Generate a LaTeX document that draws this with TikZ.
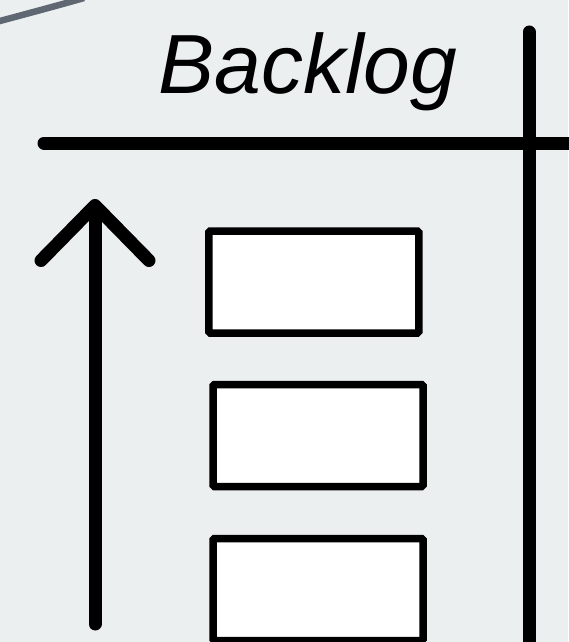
\documentclass[tikz,border=0pt]{standalone}
\usepackage{fontspec}
\setmainfont{Liberation Sans}
\usetikzlibrary{arrows.meta}
\definecolor{boardbg}{RGB}{235,239,240}
\definecolor{rimgray}{RGB}{95,103,115}

\begin{document}
\begin{tikzpicture}[
  x=1pt, y=-1pt,
  >={Straight Barb[length=55pt,width=108pt,round]},
  card/.style={
    draw,
    fill=white,
    line width=7.5pt,
    rounded corners=1.5pt,
    minimum width=210pt,
    minimum height=102pt,
    inner sep=0pt
  },
  heading/.style={font=\fontsize{84}{90}\selectfont\itshape, inner sep=0pt, anchor=base},
  every edge/.style={
    draw,
    line width=13pt,
    line cap=round,
    black
  }
]

  % Board background and rim
  \useasboundingbox[fill=boardbg] (0,0) rectangle (568,642);
  \draw[rimgray, line width=6.5pt] (-2,21.5) .. controls (26,14) and (56,6) .. (84,-2);

  % Column heading
  \node[heading] (head) at (308,93) {Backlog};

  % Column frame
  \coordinate (ruleL) at (44,143);
  \coordinate (ruleR) at (575,143);
  \coordinate (sepT) at (529,32);
  \coordinate (sepB) at (529,650);
  \path (ruleL) edge (ruleR);
  \path (sepT) edge (sepB);

  % Priority arrow
  \coordinate (prioB) at (95,624);
  \coordinate (prioT) at (95,199);
  \path (prioB) edge[->] (prioT);

  % Cards in the column
  \node[card] (card1) at (313.75,282) {};
  \node[card] (card2) at (318,435.5) {};
  \node[card] (card3) at (318,589.5) {};

\end{tikzpicture}
\end{document}
